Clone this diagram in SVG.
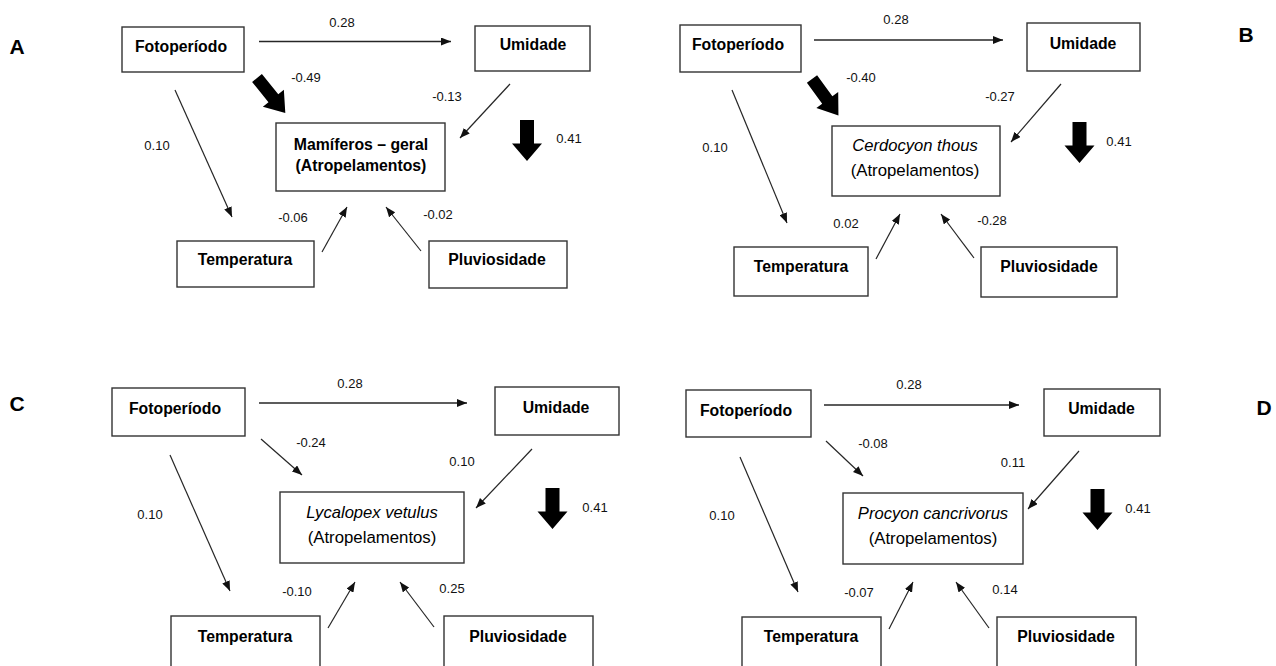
<svg xmlns="http://www.w3.org/2000/svg" width="1276" height="666" viewBox="0 0 1276 666">
<style>
.box{fill:#fff;stroke:#333;stroke-width:1.4}
.nb{font-family:"Liberation Sans",Arial,sans-serif;font-weight:bold;font-size:15.8px;fill:#000;text-anchor:middle}
.nr{font-family:"Liberation Sans",Arial,sans-serif;font-size:16.8px;fill:#000;text-anchor:middle}
.ni{font-family:"Liberation Sans",Arial,sans-serif;font-size:16.6px;font-style:italic;fill:#000;text-anchor:middle}
.lb{font-family:"Liberation Sans",Arial,sans-serif;font-size:13px;fill:#111;text-anchor:middle}
.pl{font-family:"Liberation Sans",Arial,sans-serif;font-weight:bold;font-size:21px;fill:#000;text-anchor:middle}
.c{fill:none;stroke:#262626;stroke-width:1.2;marker-end:url(#ah)}
.h{fill:none;stroke:#262626;stroke-width:1.6;marker-end:url(#ah)}
.blk{fill:#000}
</style>
<defs>
<marker id="ah" markerUnits="userSpaceOnUse" markerWidth="10" markerHeight="8" refX="10" refY="4" orient="auto">
<path d="M0,0 L10,4 L0,8 Z" fill="#111"/>
</marker>
<path id="diag" d="M0,-6.3 H26 V-13.5 L45,0 L26,13.5 V6.3 H0 Z"/>
<path id="down" d="M-7,0 H7 V23.5 H15 L0,41 L-15,23.5 H-7 Z"/>
</defs>
<rect width="1276" height="666" fill="#fff"/>

<!-- Panel letters -->
<g id="panel-labels">
<text class="pl" x="17" y="54">A</text>
<text class="pl" x="1246" y="42">B</text>
<text class="pl" x="17" y="411">C</text>
<text class="pl" x="1264" y="415">D</text>
</g>

<!-- Panel A nodes -->
<g id="A-fotoperiodo"><rect class="box" x="122" y="27" width="122" height="45"/><text class="nb" x="181" y="52">Fotoperíodo</text></g>
<g id="A-umidade"><rect class="box" x="475" y="26" width="115" height="45"/><text class="nb" x="533" y="50">Umidade</text></g>
<g id="A-mamiferos"><rect class="box" x="276" y="123" width="169" height="68"/><text class="nb" x="361" y="149.5">Mamíferos – geral</text><text class="nb" x="361" y="171">(Atropelamentos)</text></g>
<g id="A-temperatura"><rect class="box" x="177" y="241" width="137" height="46"/><text class="nb" x="245" y="265">Temperatura</text></g>
<g id="A-pluviosidade"><rect class="box" x="429" y="241" width="138" height="47"/><text class="nb" x="497" y="265">Pluviosidade</text></g>

<!-- Panel B nodes -->
<g id="B-fotoperiodo"><rect class="box" x="680" y="25" width="121" height="47"/><text class="nb" x="738" y="50">Fotoperíodo</text></g>
<g id="B-umidade"><rect class="box" x="1027" y="23" width="113" height="48"/><text class="nb" x="1083" y="49">Umidade</text></g>
<g id="B-cerdocyon"><rect class="box" x="832" y="126" width="168" height="70"/><text class="ni" x="915" y="151">Cerdocyon thous</text><text class="nr" x="915" y="176">(Atropelamentos)</text></g>
<g id="B-temperatura"><rect class="box" x="734" y="247" width="134" height="49"/><text class="nb" x="801" y="272">Temperatura</text></g>
<g id="B-pluviosidade"><rect class="box" x="981" y="247" width="136" height="50"/><text class="nb" x="1049" y="272">Pluviosidade</text></g>

<!-- Panel C nodes -->
<g id="C-fotoperiodo"><rect class="box" x="112" y="388" width="133" height="48"/><text class="nb" x="175" y="414">Fotoperíodo</text></g>
<g id="C-umidade"><rect class="box" x="495" y="387" width="124" height="48"/><text class="nb" x="556" y="413">Umidade</text></g>
<g id="C-lycalopex"><rect class="box" x="280" y="492" width="184" height="71"/><text class="ni" x="372" y="518">Lycalopex vetulus</text><text class="nr" x="372" y="543">(Atropelamentos)</text></g>
<g id="C-temperatura"><rect class="box" x="171" y="616" width="149" height="60"/><text class="nb" x="245" y="642">Temperatura</text></g>
<g id="C-pluviosidade"><rect class="box" x="444" y="616" width="149" height="60"/><text class="nb" x="518" y="642">Pluviosidade</text></g>

<!-- Panel D nodes -->
<g id="D-fotoperiodo"><rect class="box" x="686" y="390" width="125" height="47"/><text class="nb" x="746" y="415.5">Fotoperíodo</text></g>
<g id="D-umidade"><rect class="box" x="1044" y="389" width="116" height="47"/><text class="nb" x="1101.5" y="414">Umidade</text></g>
<g id="D-procyon"><rect class="box" x="843" y="493" width="180" height="71"/><text class="ni" x="933" y="519">Procyon cancrivorus</text><text class="nr" x="933" y="544">(Atropelamentos)</text></g>
<g id="D-temperatura"><rect class="box" x="742" y="617" width="139" height="60"/><text class="nb" x="811" y="642">Temperatura</text></g>
<g id="D-pluviosidade"><rect class="box" x="997" y="617" width="139" height="60"/><text class="nb" x="1066" y="642">Pluviosidade</text></g>

<!-- Connectors -->
<g id="connectors">
<!-- A -->
<line class="h" x1="259" y1="41.5" x2="451" y2="41.5"/>
<line class="c" x1="175" y1="90" x2="232" y2="217"/>
<line class="c" x1="510" y1="84" x2="460" y2="138"/>
<line class="c" x1="322" y1="252" x2="347" y2="207"/>
<line class="c" x1="421" y1="251" x2="386" y2="207"/>
<use href="#diag" class="blk" transform="translate(257,78) rotate(51)"/>
<use href="#down" class="blk" transform="translate(527,120)"/>
<!-- B -->
<line class="h" x1="814" y1="40" x2="1003" y2="40"/>
<line class="c" x1="732" y1="90" x2="787" y2="223"/>
<line class="c" x1="1061" y1="84" x2="1011" y2="142"/>
<line class="c" x1="876" y1="259" x2="900" y2="214"/>
<line class="c" x1="974" y1="258" x2="941" y2="214"/>
<use href="#diag" class="blk" transform="translate(812,79) rotate(54)"/>
<use href="#down" class="blk" transform="translate(1079.5,122)"/>
<!-- C -->
<line class="h" x1="259" y1="403" x2="467" y2="403"/>
<line class="c" x1="261" y1="439" x2="302" y2="475"/>
<line class="c" x1="532" y1="449" x2="476" y2="508"/>
<line class="c" x1="170" y1="455" x2="230" y2="591"/>
<line class="c" x1="328" y1="628" x2="355" y2="582"/>
<line class="c" x1="434" y1="627" x2="400" y2="582"/>
<use href="#down" class="blk" transform="translate(552.5,488)"/>
<!-- D -->
<line class="h" x1="824" y1="405" x2="1019" y2="405"/>
<line class="c" x1="826" y1="441" x2="863" y2="476"/>
<line class="c" x1="1079" y1="451" x2="1028" y2="509"/>
<line class="c" x1="740" y1="457" x2="798" y2="592"/>
<line class="c" x1="889" y1="629" x2="913" y2="582"/>
<line class="c" x1="989" y1="628" x2="956" y2="582"/>
<use href="#down" class="blk" transform="translate(1097.5,489)"/>
</g>

<!-- Coefficient labels -->
<g id="coefficients">
<text class="lb" x="342" y="26.5">0.28</text>
<text class="lb" x="306" y="81.5">-0.49</text>
<text class="lb" x="447" y="100.5">-0.13</text>
<text class="lb" x="569" y="142.5">0.41</text>
<text class="lb" x="157" y="149.5">0.10</text>
<text class="lb" x="293" y="221.5">-0.06</text>
<text class="lb" x="438" y="218.5">-0.02</text>

<text class="lb" x="896" y="23.5">0.28</text>
<text class="lb" x="861" y="81.5">-0.40</text>
<text class="lb" x="1000" y="100.5">-0.27</text>
<text class="lb" x="1119" y="145.5">0.41</text>
<text class="lb" x="715" y="151.5">0.10</text>
<text class="lb" x="846" y="227.5">0.02</text>
<text class="lb" x="992" y="224.5">-0.28</text>

<text class="lb" x="350" y="387.5">0.28</text>
<text class="lb" x="311" y="446.5">-0.24</text>
<text class="lb" x="462" y="465.5">0.10</text>
<text class="lb" x="595" y="511.5">0.41</text>
<text class="lb" x="150" y="518.5">0.10</text>
<text class="lb" x="297" y="595.5">-0.10</text>
<text class="lb" x="452" y="592.5">0.25</text>

<text class="lb" x="909" y="388.5">0.28</text>
<text class="lb" x="873" y="447.5">-0.08</text>
<text class="lb" x="1013" y="466.5">0.11</text>
<text class="lb" x="1138" y="512.5">0.41</text>
<text class="lb" x="722" y="519.5">0.10</text>
<text class="lb" x="859" y="596.5">-0.07</text>
<text class="lb" x="1005" y="593.5">0.14</text>
</g>
</svg>
